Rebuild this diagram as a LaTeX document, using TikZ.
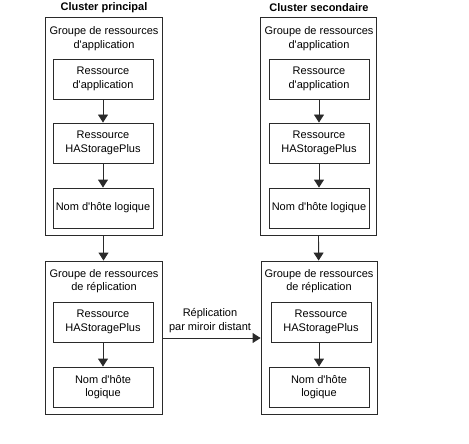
\documentclass[tikz,border=0pt]{standalone}
\usepackage{fontspec}
\setmainfont{Liberation Sans}
\usetikzlibrary{arrows.meta}
\definecolor{ln}{HTML}{2A2A2A}
\newcommand{\apo}{\textquotesingle}
\begin{document}
\begin{tikzpicture}[x=1pt,y=-1pt,
  every node/.style={font=\fontsize{11}{13.5}\selectfont},
  box/.style={draw=ln,line width=0.9pt,minimum width=100pt,minimum height=40pt,inner sep=0pt,align=center},
  outerbox/.style={draw=ln,line width=0.9pt,inner sep=0pt},
  lbl/.style={align=center,inner sep=0pt},
  ttl/.style={font=\fontsize{11}{13.5}\selectfont\bfseries,inner sep=0pt},
  arr/.style={draw=ln,line width=0.9pt,-{Triangle[width=10pt,length=8pt]}}]
\useasboundingbox (0,0) rectangle (469,444);
% titles
\node[ttl] (t1) at (104,8) {Cluster principal};
\node[ttl] (t2) at (319,8) {Cluster secondaire};
% left top group
\node[outerbox,minimum width=117pt,minimum height=218pt] (lg1) at (103.5,126) {};
\node[lbl] (lg1t) at (104,38.5) {Groupe de ressources\\d\apo application};
\node[box] (la1) at (103,79) {Ressource\\d\apo application};
\node[box] (la2) at (103,143) {Ressource\\HAStoragePlus};
\node[box] (la3) at (103,208) {Nom d\apo hôte logique};
% right top group
\node[outerbox,minimum width=116pt,minimum height=218pt] (rg1) at (318,126) {};
\node[lbl] (rg1t) at (319,38.5) {Groupe de ressources\\d\apo application};
\node[box] (ra1) at (319,79) {Ressource\\d\apo application};
\node[box] (ra2) at (319,143) {Ressource\\HAStoragePlus};
\node[box] (ra3) at (319,208) {Nom d\apo hôte logique};
% left bottom group
\node[outerbox,minimum width=117pt,minimum height=153pt] (lg2) at (103.5,337.5) {};
\node[lbl] (lg2t) at (104,281) {Groupe de ressources\\de réplication};
\node[box] (lb1) at (103,322) {Ressource\\HAStoragePlus};
\node[box] (lb2) at (103,387) {Nom d\apo hôte\\logique};
% right bottom group
\node[outerbox,minimum width=116pt,minimum height=153pt] (rg2) at (319,337.5) {};
\node[lbl] (rg2t) at (319,281) {Groupe de ressources\\de réplication};
\node[box] (rb1) at (321,322) {Ressource\\HAStoragePlus};
\node[box] (rb2) at (319,387) {Nom d\apo hôte\\logique};
% arrows
\draw[arr] (la1) -- (la2);
\draw[arr] (la2) -- (la3);
\draw[arr] (ra1) -- (ra2);
\draw[arr] (ra2) -- (ra3);
\draw[arr] (lb1) -- (lb2);
\draw[arr] (rb1.south -| rb2) -- (rb2);
\draw[arr] (lg1) -- (lg2);
\draw[arr] (rg1) -- (rg2);
\coordinate (rep) at (210,338);
\draw[arr] (lg2.east |- rep) -- (rg2.west |- rep);
\node[lbl] (replbl) at (210,320.5) {Réplication\\par miroir distant};
\end{tikzpicture}
\end{document}
